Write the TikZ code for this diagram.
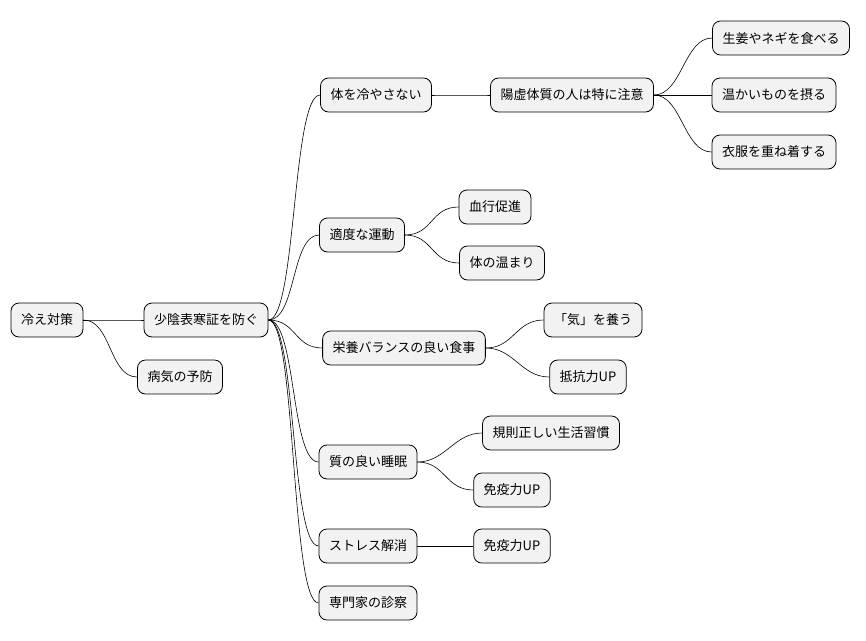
\documentclass[tikz,border=0pt]{standalone}
\usepackage{fontspec}
\setmainfont{Noto Sans CJK JP}
\tikzset{
  topic/.style={draw=black,fill=black!5,rounded corners=8pt,line width=0.8pt,
    minimum height=34pt,inner xsep=10pt,font=\fontsize{13}{15}\selectfont},
  branch/.style={line width=0.6pt}
}
\newcommand{\link}[2]{\draw[branch] (#1.east) .. controls +(28,0) and +(-28,0) .. (#2.west);}
\begin{document}
\begin{tikzpicture}[x=1pt,y=-1pt]
\useasboundingbox (0,0) rectangle (866,640);
% root and first level
\node[topic] (root) at (47,320) {冷え対策};
\node[topic] (shoin) at (206,320) {少陰表寒証を防ぐ};
\node[topic] (byoki) at (180,377) {病気の予防};
% second level
\node[topic] (hiyasu) at (376,95) {体を冷やさない};
\node[topic] (undo) at (362,235) {適度な運動};
\node[topic] (eiyo) at (404,348) {栄養バランスの良い食事};
\node[topic] (suimin) at (368,462) {質の良い睡眠};
\node[topic] (stress) at (368,546) {ストレス解消};
\node[topic] (shinsatsu) at (368,603) {専門家の診察};
% third level
\node[topic] (yokyo) at (572,95) {陽虚体質の人は特に注意};
\node[topic] (kekko) at (495,207) {血行促進};
\node[topic] (atatamari) at (502,263) {体の温まり};
\node[topic] (ki) at (593,320) {「気」を養う};
\node[topic] (teiko) at (588,377) {抵抗力UP};
\node[topic] (kisoku) at (551,433) {規則正しい生活習慣};
\node[topic] (meneki) at (512,490) {免疫力UP};
\node[topic] (meneki2) at (512,546) {免疫力UP};
% fourth level
\node[topic] (shoga) at (781,38) {生姜やネギを食べる};
\node[topic] (onkai) at (774,95) {温かいものを摂る};
\node[topic] (ifuku) at (774,152) {衣服を重ね着する};
% connectors
\link{root}{shoin}
\link{root}{byoki}
\foreach \c in {hiyasu,undo,eiyo,suimin,stress,shinsatsu} {\link{shoin}{\c}}
\link{hiyasu}{yokyo}
\foreach \c in {shoga,onkai,ifuku} {\link{yokyo}{\c}}
\link{undo}{kekko}
\link{undo}{atatamari}
\link{eiyo}{ki}
\link{eiyo}{teiko}
\link{suimin}{kisoku}
\link{suimin}{meneki}
\link{stress}{meneki2}
\end{tikzpicture}
\end{document}
